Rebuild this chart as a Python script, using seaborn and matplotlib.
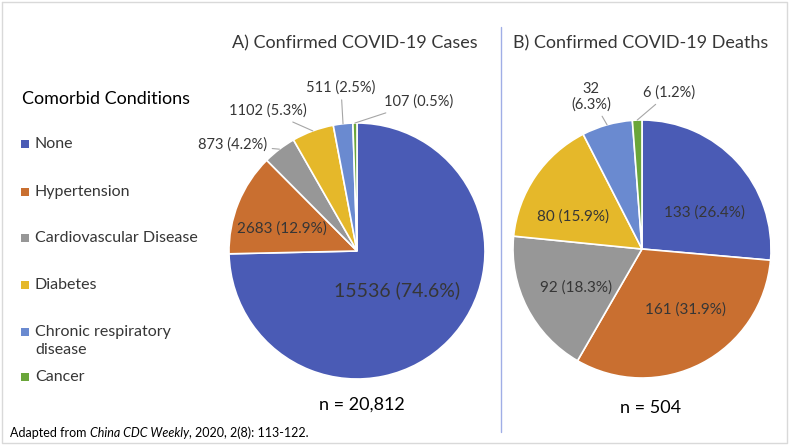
import numpy as np
import matplotlib
matplotlib.use("Agg")
import matplotlib.pyplot as plt
import seaborn as sns

# data
conditions = ["None", "Hypertension", "Cardiovascular Disease", "Diabetes",
              "Chronic respiratory\ndisease", "Cancer"]
cases = [15536, 2683, 873, 1102, 511, 107]
cases_pct = [74.6, 12.9, 4.2, 5.3, 2.5, 0.5]
deaths = [133, 161, 92, 80, 32, 6]
deaths_pct = [26.4, 31.9, 18.3, 15.9, 6.3, 1.2]
colors = ["#4a5bb5", "#c96f30", "#979797", "#e5b82a", "#6a8ad0", "#6aa63a"]

sns.set_theme(style="white")
plt.rcParams["font.family"] = ["Lato", "DejaVu Sans"]

W, H = 789, 447
fig = plt.figure(figsize=(W / 100, H / 100), dpi=100)
ax = fig.add_axes([0, 0, 1, 1])
ax.set_xlim(0, W)
ax.set_ylim(0, H)
ax.axis("off")

def Y(y):
    # image rows -> axes y
    return H - y

txt = "#363636"
lead = "#a6a6a6"

# layout per pie: center, radius, inside labels (radial factor, angle shift, size), outside label positions
pies = [
    dict(vals=cases, pct=cases_pct, c=(357, 251), r=128,
         inside={0: (0.44, 0, 14), 1: (0.61, 5, 11)},
         outside={2: (233, 145), 3: (268, 111), 4: (341, 88), 5: (419, 102)},
         title="A) Confirmed COVID-19 Cases", tx=355, n="n = 20,812", nx=362, ny=405),
    dict(vals=deaths, pct=deaths_pct, c=(642, 249), r=129,
         inside={0: (0.56, -12, 11), 1: (0.58, 8, 11), 2: (0.59, 3, 11), 3: (0.59, 9, 11)},
         outside={4: (591, 97), 5: (669, 93)},
         title="B) Confirmed COVID-19 Deaths", tx=641, n="n = 504", nx=651, ny=408),
]

for p in pies:
    cx, cy = p["c"][0], Y(p["c"][1])
    r = p["r"]
    wedges, _ = ax.pie(p["vals"], colors=colors, startangle=90, counterclock=False,
                       center=(cx, cy), radius=r,
                       wedgeprops=dict(edgecolor="white", linewidth=1.2))
    for i, w in enumerate(wedges):
        mid = (w.theta1 + w.theta2) / 2
        if p["vals"] is deaths and i == 4:
            lab = f"{p['vals'][i]}\n({p['pct'][i]}%)"
        else:
            lab = f"{p['vals'][i]} ({p['pct'][i]}%)"
        if i in p["inside"]:
            rf, dth, fs = p["inside"][i]
            a = np.radians(mid + dth)
            ax.text(cx + rf * r * np.cos(a), cy + rf * r * np.sin(a), lab,
                    ha="center", va="center", fontsize=fs, color=txt)
        else:
            a = np.radians(mid)
            ex, ey = cx + r * np.cos(a), cy + r * np.sin(a)
            lx, ly = p["outside"][i]
            ax.annotate(lab, xy=(ex, ey), xytext=(lx, Y(ly)), ha="center", va="center",
                        fontsize=10.5, color=txt, linespacing=1.1,
                        arrowprops=dict(arrowstyle="-", color=lead, lw=0.8,
                                        shrinkA=1, shrinkB=0))
    ax.text(p["tx"], Y(43), p["title"], ha="center", va="center", fontsize=13, color=txt)
    ax.text(p["nx"], Y(p["ny"]), p["n"], ha="center", va="center", fontsize=13, color="black")

# divider between panels
ax.plot([501, 501], [Y(27), Y(432)], color="#a0aee6", lw=1)

# legend, drawn by hand to keep Excel spacing
ax.text(22, Y(99), "Comorbid Conditions", ha="left", va="center", fontsize=13, color="black")
leg_y = [144, 192, 238, 285, 341, 377]
ax.scatter([25] * 6, [Y(v) for v in leg_y[:4]] + [Y(332), Y(377)], marker="s", s=28,
           c=colors, linewidths=0)
for name, yy in zip(conditions, leg_y):
    ax.text(35, Y(yy), name, ha="left", va="center", fontsize=11.5, color=txt,
            linespacing=1.3)

# source note, with the journal name in italics
renderer = fig.canvas.get_renderer()
x0 = 10
for part, style in [("Adapted from ", "normal"), ("China CDC Weekly", "italic"),
                    (", 2020, 2(8): 113-122.", "normal")]:
    t = ax.text(x0, Y(433), part, ha="left", va="center", fontsize=9,
                color="black", fontstyle=style)
    bb = t.get_window_extent(renderer)
    x0 += bb.width

# outer frame
ax.plot([2, W - 2, W - 2, 2, 2], [Y(2), Y(2), Y(443), Y(443), Y(2)], color="#d9d9d9", lw=1)

ax.set_xlim(0, W)
ax.set_ylim(0, H)
fig.savefig("out.png", dpi=100)
